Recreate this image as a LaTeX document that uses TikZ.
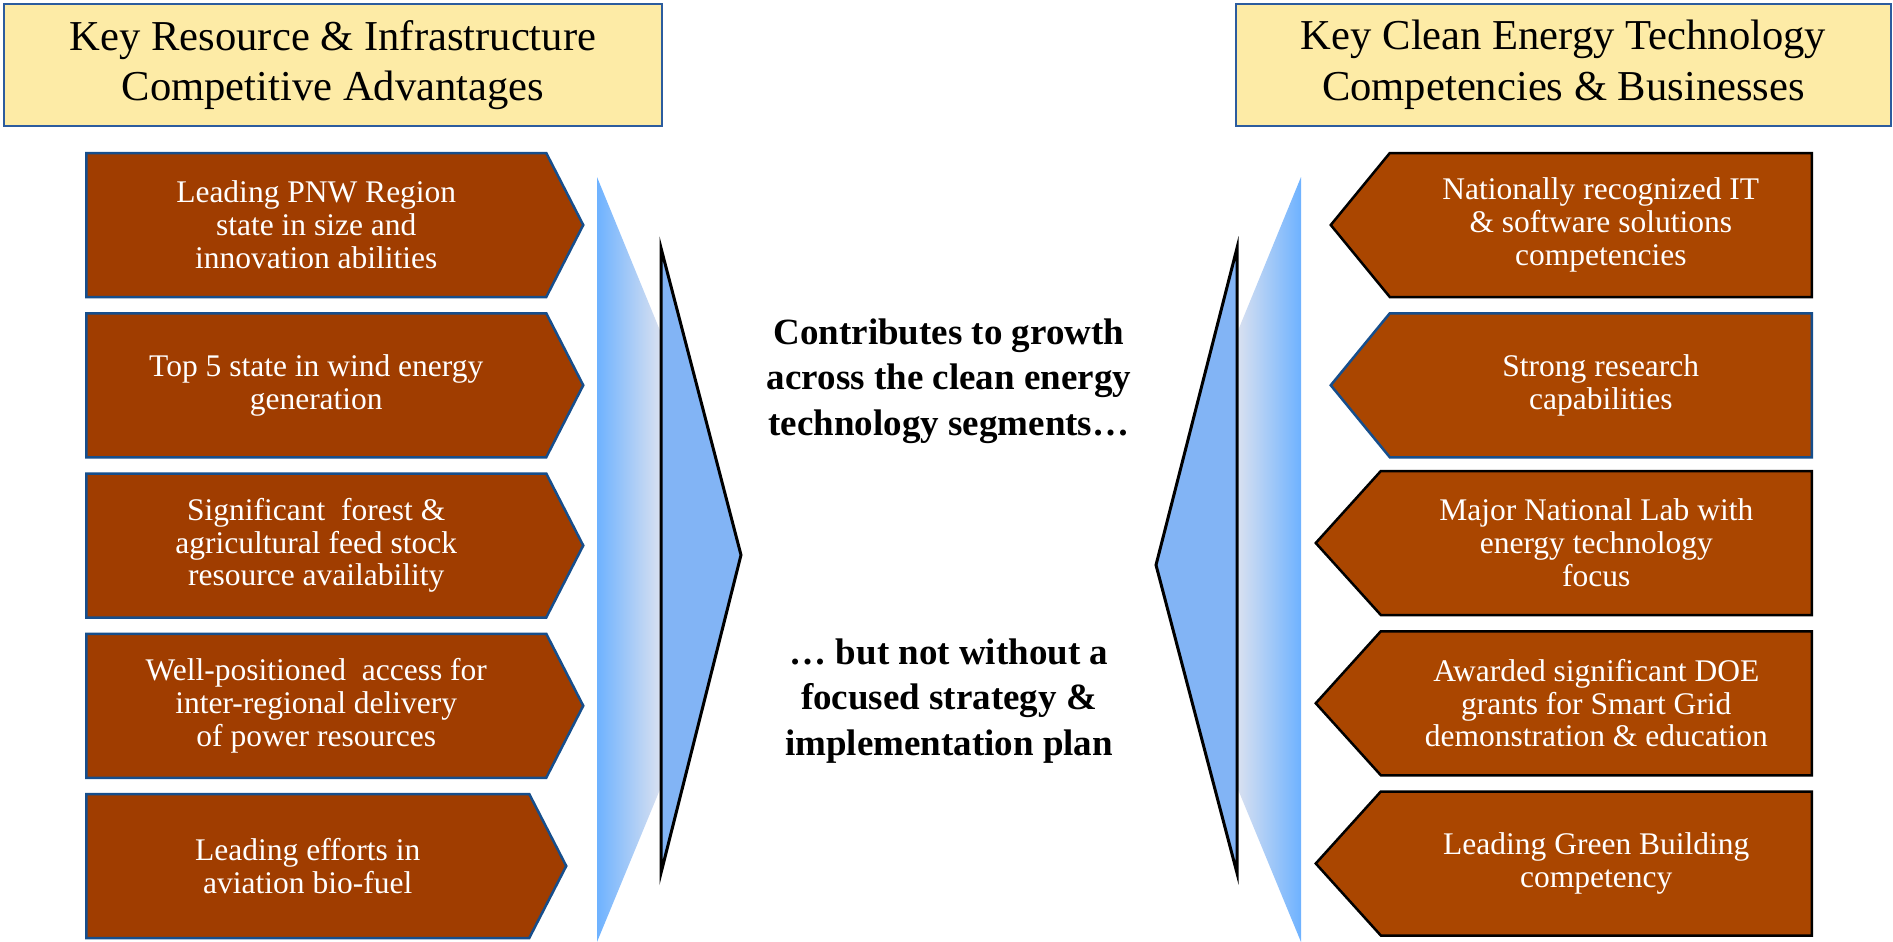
\documentclass[tikz,border=0pt]{standalone}
\usepackage{fontspec}
\setmainfont{Liberation Serif}
\usetikzlibrary{positioning,shapes.symbols}

\definecolor{headfill}{RGB}{253,235,166}
\definecolor{headline}{RGB}{44,92,158}
\definecolor{rustl}{RGB}{160,61,0}
\definecolor{rustr}{RGB}{170,70,0}
\definecolor{boxline}{RGB}{22,78,140}
\definecolor{bandblue}{RGB}{110,178,255}
\definecolor{bandmid}{RGB}{150,205,255}
\definecolor{bandpale}{RGB}{218,225,240}
\definecolor{trifill}{RGB}{130,180,245}

\begin{document}
\begin{tikzpicture}[x=1pt, y=-1pt,
        node distance=13.75pt,
        header/.style={draw=headline, line width=2pt, fill=headfill, align=center, minimum height=122pt, font=\fontsize{42.6}{50.7}\selectfont},
        leftbox/.style={signal, signal to=east, signal pointer angle=125.6, draw=boxline, line width=2.5pt, fill=rustl, text=white, align=center, minimum width=497pt, minimum height=144pt, font=\fontsize{31.5}{32.8}\selectfont},
        rightbox/.style={signal, signal to=west, signal pointer angle=95.8, draw=black, line width=2.5pt, fill=rustr, text=white, align=center, minimum width=496pt, minimum height=144pt, font=\fontsize{31.5}{32.8}\selectfont},
        midtext/.style={align=center, font=\bfseries\fontsize{37}{45.5}\selectfont}
    ]
    \useasboundingbox (0,0) rectangle (1893,942);

    % Shaded bands and triangles
    \shade[left color=bandblue, middle color=bandmid, right color=bandpale] (597,177) -- (661,333) -- (661,787) -- (597,942) -- cycle;
    \shade[left color=bandpale, middle color=bandmid, right color=bandblue] (1301,177) -- (1237,333) -- (1237,787) -- (1301,942) -- cycle;
    \filldraw[fill=trifill, draw=black, line width=3pt, line join=miter] (661,248) -- (741,555) -- (661,873) -- cycle;
    \filldraw[fill=trifill, draw=black, line width=3pt, line join=miter] (1237,248) -- (1156,565) -- (1237,873) -- cycle;

    % Headers
    \node (lhead) [header, minimum width=658pt] at (333,65) {Key Resource \& Infrastructure \\ Competitive Advantages};
    \node (rhead) [header, minimum width=655pt] at (1563.5,65) {Key Clean Energy Technology \\ Competencies \& Businesses};

    % Left boxes
    \node (lbox1) [leftbox, anchor=west] at (85,225) {Leading PNW Region \\ state in size and \\ innovation abilities};
    \node (lbox2) [leftbox, below=of lbox1] {Top 5 state in wind energy \\ generation};
    \node (lbox3) [leftbox, below=of lbox2] {Significant~ forest \& \\ agricultural feed stock \\ resource availability};
    \node (lbox4) [leftbox, below=of lbox3] {Well-positioned~ access for \\ inter-regional delivery \\ of power resources};
    \node (lbox5) [leftbox, minimum width=480pt, below=of lbox4.south west, anchor=north west] {Leading efforts in \\ aviation bio-fuel};

    % Right boxes
    \node (rbox1) [rightbox, signal pointer angle=101.3, minimum width=481pt, anchor=east] at (1813,225) {Nationally recognized IT \\ \& software solutions \\ competencies};
    \node (rbox2) [rightbox, signal pointer angle=101.3, minimum width=481pt, draw=boxline, below=of rbox1] {Strong research \\ capabilities};
    \node (rbox3) [rightbox, below=of rbox2.south east, anchor=north east] {Major National Lab with \\ energy technology \\ focus};
    \node (rbox4) [rightbox, below=of rbox3] {Awarded significant DOE \\ grants for Smart Grid \\ demonstration \& education};
    \node (rbox5) [rightbox, below=of rbox4] {Leading Green Building \\ competency};

    % Middle text
    \node (grow) [midtext] at (949,381) {Contributes to growth \\ across the clean energy \\ technology segments…};
    \node (plan) [midtext] at (949,701) {… but not without a \\ focused strategy \& \\ implementation plan};

\end{tikzpicture}
\end{document}
